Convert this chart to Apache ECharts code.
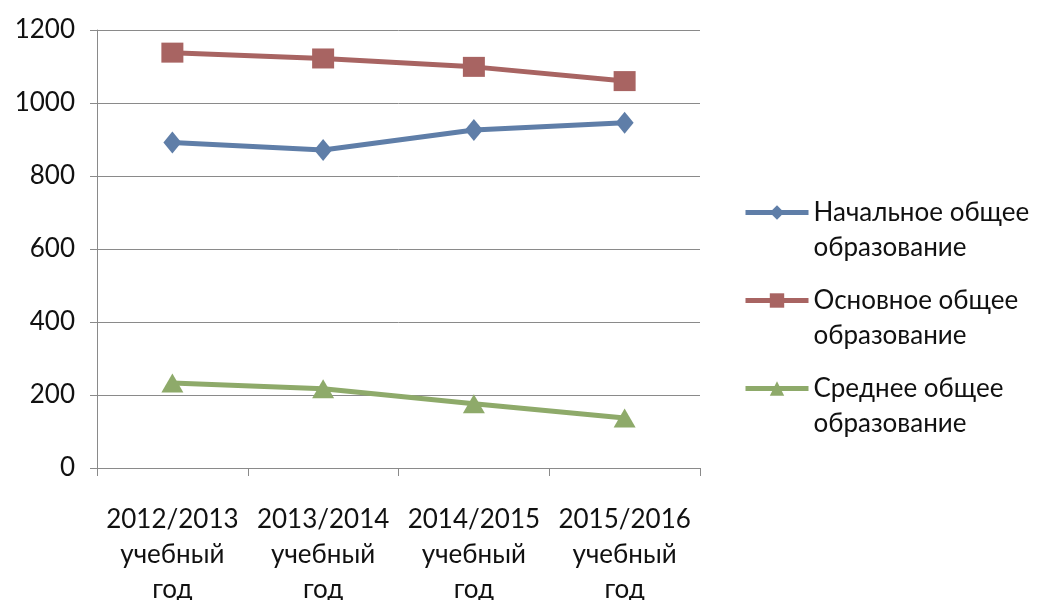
<!DOCTYPE html>
<html>
<head>
<meta charset="utf-8">
<script src="https://cdn.jsdelivr.net/npm/echarts@6/dist/echarts.min.js"></script>
<style>
  html, body { margin: 0; padding: 0; background: #fff; }
  #chart { width: 1045px; height: 600px; }
</style>
</head>
<body>
<div id="chart"></div>
<script>
const categories = [
  '2012/2013\nучебный\nгод',
  '2013/2014\nучебный\nгод',
  '2014/2015\nучебный\nгод',
  '2015/2016\nучебный\nгод'
];
const seriesNames = ['Начальное общее\nобразование', 'Основное общее\nобразование', 'Среднее общее\nобразование'];
const primary = [892, 871, 926, 946];
const basic = [1138, 1122, 1099, 1060];
const secondary = [233, 217, 176, 137];
const yTicks = { min: 0, max: 1200, interval: 200 };

const font = 'Lato, "Open Sans", sans-serif';
const chart = echarts.init(document.getElementById('chart'));

function lineSeries(name, data, color, symbol, size) {
  return {
    name: name,
    type: 'line',
    data: data,
    symbol: symbol,
    symbolSize: size,
    lineStyle: { color: color, width: 5 },
    itemStyle: { color: color },
    emphasis: { disabled: true }
  };
}

chart.setOption({
  animation: false,
  textStyle: { fontFamily: font },
  grid: { left: 97, right: 345, top: 30, bottom: 132, outerBoundsMode: 'none' },
  legend: {
    orient: 'vertical',
    left: 743,
    top: 160,
    padding: 0,
    itemWidth: 63,
    itemHeight: 18,
    itemGap: -17,
    lineStyle: { width: 5 },
    // blank first line so the icon sits next to the first text line
    formatter: function (name) { return '\n' + name; },
    textStyle: { fontSize: 26, color: '#111', lineHeight: 35, fontFamily: font },
    data: seriesNames
  },
  xAxis: {
    type: 'category',
    data: categories,
    axisLine: { lineStyle: { color: '#8a8a8a', width: 1 } },
    axisTick: { show: true, length: 8, lineStyle: { color: '#8a8a8a' } },
    axisLabel: { interval: 0, fontSize: 26, lineHeight: 35, color: '#111', margin: 34 },
    splitLine: { show: false }
  },
  yAxis: {
    type: 'value',
    min: yTicks.min,
    max: yTicks.max,
    interval: yTicks.interval,
    axisLine: { show: true, lineStyle: { color: '#8a8a8a', width: 1 } },
    axisTick: { show: true, length: 7, lineStyle: { color: '#8a8a8a' } },
    axisLabel: { fontSize: 26, color: '#111', margin: 22, formatter: function (v) { return String(v); } },
    splitLine: { lineStyle: { color: '#8a8a8a', width: 1 } }
  },
  series: [
    lineSeries(seriesNames[0], primary, '#5f7ea8', 'diamond', [18, 22]),
    lineSeries(seriesNames[1], basic, '#a86462', 'rect', [22, 20]),
    lineSeries(seriesNames[2], secondary, '#8eaa6a', 'triangle', [22, 19])
  ]
});
</script>
</body>
</html>
